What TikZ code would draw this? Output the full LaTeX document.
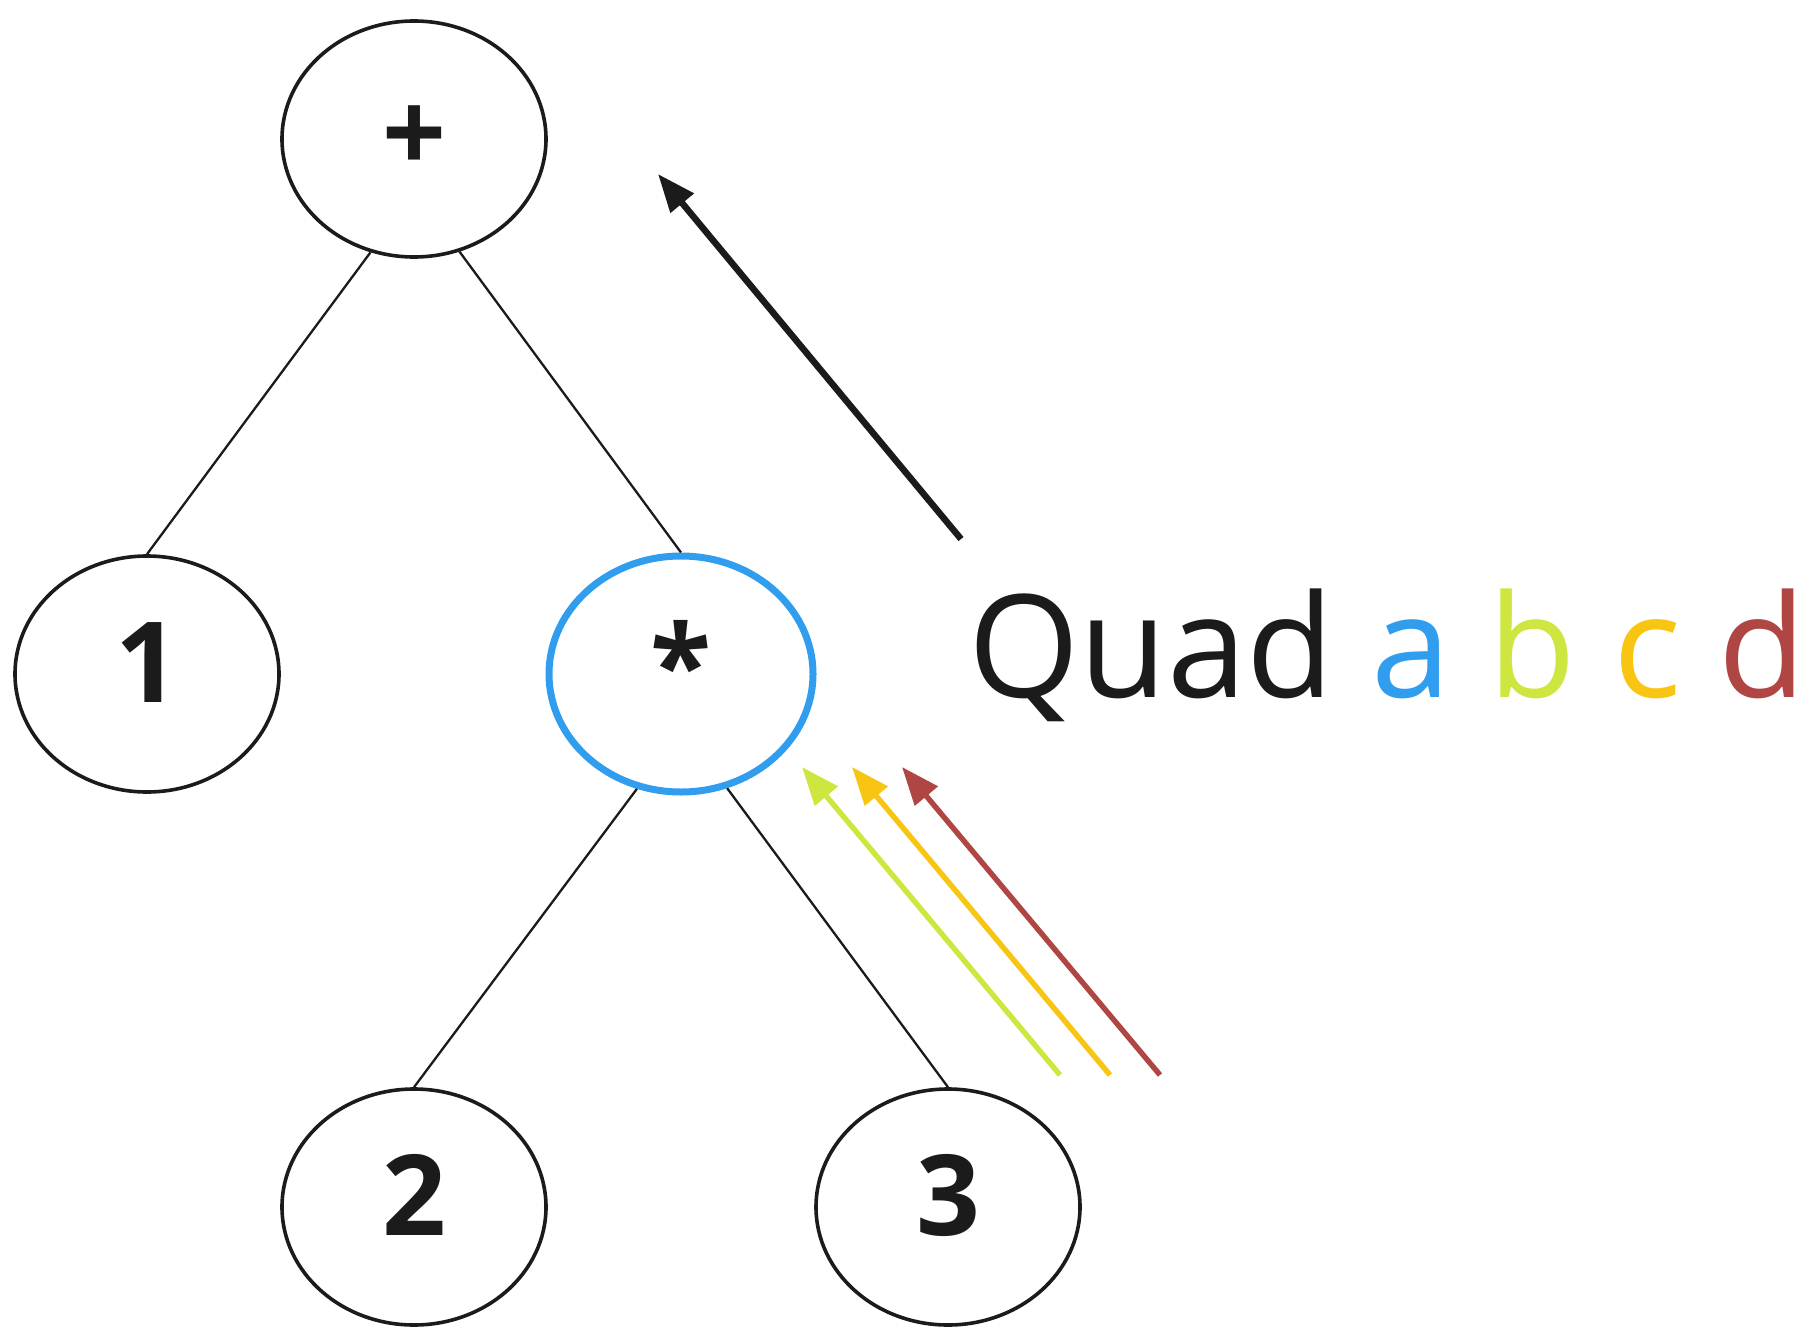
\documentclass[tikz,border=0pt]{standalone}
\usepackage{fontspec}
\setmainfont{Open Sans}
\usetikzlibrary{arrows.meta,shapes.geometric}
\definecolor{ink}{HTML}{1B1B1B}
\definecolor{qa}{HTML}{319DEF}
\definecolor{qb}{HTML}{CFE640}
\definecolor{qc}{HTML}{F9C513}
\definecolor{qd}{HTML}{B04643}
\begin{document}
\begin{tikzpicture}[x=1pt,y=-1pt,
  treenode/.style={ellipse,draw=ink,line width=3.6pt,minimum width=264pt,minimum height=236pt,inner sep=0pt,
    font=\fontsize{112}{130}\selectfont\bfseries,text=ink,text height=56pt,text depth=0pt},
  hinode/.style={treenode,draw=qa,line width=7pt},
  edge/.style={draw=ink,line width=2.3pt},
  pointer/.style={-{Triangle[length=38pt,width=29pt]},line width=6.5pt},
  cpointer/.style={-{Triangle[length=38pt,width=29pt]},line width=5.4pt}]
\useasboundingbox (0,0) rectangle (1817,1343);
\node[treenode] (plus) at (414,139) {\raisebox{-6pt}{+}};
\node[treenode] (one) at (147,674) {1};
\node[hinode] (star) at (681,674) {\raisebox{-3pt}{*}};
\node[treenode] (two) at (414,1207) {2};
\node[treenode] (three) at (948,1207) {3};
\draw[edge] (plus.-111.6) -- (one.north);
\draw[edge] (plus.-68.4) -- (star.north);
\draw[edge] (star.-111.6) -- (two.north);
\draw[edge] (star.-68.4) -- (three.north);
\coordinate (kS) at (961,539);
\coordinate (kT) at (658,174);
\draw[pointer,draw=ink,fill=ink] (kS) -- (kT);
\coordinate (gS) at (1060,1075);
\coordinate (gT) at (802,767);
\coordinate (yS) at (1110,1075);
\coordinate (yT) at (852,767);
\coordinate (rS) at (1160,1075);
\coordinate (rT) at (902,767);
\draw[cpointer,draw=qb,fill=qb] (gS) -- (gT);
\draw[cpointer,draw=qc,fill=qc] (yS) -- (yT);
\draw[cpointer,draw=qd,fill=qd] (rS) -- (rT);
\node[anchor=base west,inner sep=0pt,font=\fontsize{143}{170}\selectfont,text=ink] (quad) at (968,697)
  {Quad \textcolor{qa}{a} \textcolor{qb}{b} \textcolor{qc}{c} \textcolor{qd}{d}};
\end{tikzpicture}
\end{document}
